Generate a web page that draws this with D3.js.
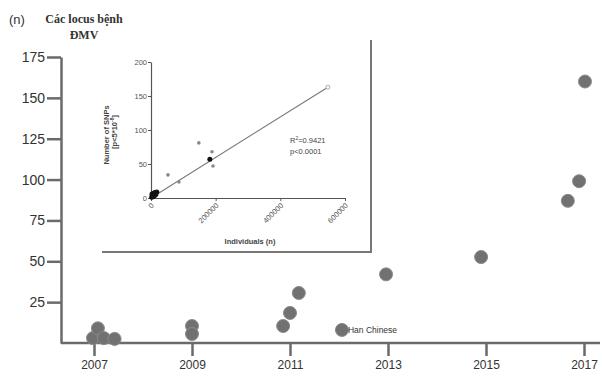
<!DOCTYPE html>
<html>
<head>
<meta charset="utf-8">
<script src="https://cdn.jsdelivr.net/npm/d3@7"></script>
<style>
  body { margin: 0; background: #fff; }
  svg { display: block; }
</style>
</head>
<body>
<script>
// Main chart data: year of study vs number of CAD loci
var studyYears = [2006.98, 2007.08, 2007.2, 2007.42, 2009.0, 2009.0, 2010.86, 2011.0, 2011.18, 2012.06, 2012.96, 2014.9, 2016.67, 2016.9, 2017.02];
var lociCounts = [3, 9, 3, 2.5, 10.4, 5.5, 10.4, 18.4, 30.6, 8, 42, 52.6, 87, 99, 160];
var yearTicks = [2007, 2009, 2011, 2013, 2015, 2017];
var lociTicks = [25, 50, 75, 100, 125, 150, 175];

// Inset data: sample size vs number of SNPs
var insetIndividuals = [148000, 188500, 191700, 86500, 52500];
var insetSNPs = [81, 68, 47, 23.5, 34];
var smallIndividuals = [2000, 4000, 6000, 8000, 10000, 12000, 15000, 18000, 3000, 182000];
var smallSNPs = [1, 4, 2, 7, 3, 8, 5, 9, 6, 57];
var largestIndividuals = [547000];
var largestSNPs = [163];
var fitIndividuals = [0, 547000];
var fitSNPs = [0, 163];
var insetXTicks = [0, 200000, 400000, 600000];
var insetYTicks = [0, 50, 100, 150, 200];

var svgWidth = 602;
var svgHeight = 379;

var svg = d3.select("body")
  .append("svg")
  .attr("width", svgWidth)
  .attr("height", svgHeight);

var defs = svg.append("defs");
defs.append("filter")
  .attr("id", "soft")
  .append("feGaussianBlur")
  .attr("stdDeviation", 0.7);

// scales for the main chart
var xScale = d3.scaleLinear().domain([2007, 2017]).range([94, 584]);
var yScale = d3.scaleLinear().domain([0, 175]).range([343, 57]);

var axisColor = "#6a6a6a";

// main y axis
var yAxisG = svg.append("g")
  .attr("transform", "translate(61,0)")
  .call(d3.axisLeft(yScale).tickValues(lociTicks).tickSize(14).tickSizeOuter(0).tickPadding(2));
yAxisG.select(".domain").attr("stroke", axisColor).attr("stroke-width", 2.5);
yAxisG.selectAll(".tick line").attr("stroke", axisColor).attr("stroke-width", 2.5);
yAxisG.selectAll(".tick text")
  .attr("font-family", "Liberation Sans, Arial, sans-serif")
  .attr("font-size", 14)
  .attr("fill", "#333");

// main x axis
svg.append("line")
  .attr("x1", 61).attr("x2", 600)
  .attr("y1", 343).attr("y2", 343)
  .attr("stroke", axisColor).attr("stroke-width", 2.5);
var xAxisG = svg.append("g")
  .attr("transform", "translate(0,343)")
  .call(d3.axisBottom(xScale).tickValues(yearTicks).tickFormat(d3.format("d")).tickSize(13).tickPadding(4));
xAxisG.select(".domain").remove();
xAxisG.selectAll(".tick line").attr("stroke", axisColor).attr("stroke-width", 2.5);
xAxisG.selectAll(".tick text")
  .attr("font-family", "Liberation Sans, Arial, sans-serif")
  .attr("font-size", 12)
  .attr("fill", "#333");

// inset frame
svg.append("line")
  .attr("x1", 371).attr("x2", 371).attr("y1", 40).attr("y2", 253)
  .attr("stroke", "#777").attr("stroke-width", 2);
svg.append("line")
  .attr("x1", 102).attr("x2", 372).attr("y1", 252).attr("y2", 252)
  .attr("stroke", "#777").attr("stroke-width", 2);

// main points
svg.selectAll(".dot")
  .data(studyYears.map((d, i) => ({ year: d, loci: lociCounts[i] })))
  .enter()
  .append("circle")
  .attr("class", "dot")
  .attr("cx", d => xScale(d.year))
  .attr("cy", d => yScale(d.loci))
  .attr("r", 6.5)
  .attr("fill", "#717171")
  .attr("stroke", "#8a8a8a")
  .attr("stroke-width", 1)
  .attr("filter", "url(#soft)");

svg.append("text")
  .attr("x", xScale(2012.06) + 6)
  .attr("y", yScale(8) + 3)
  .attr("font-family", "Liberation Sans, Arial, sans-serif")
  .attr("font-size", 8.5)
  .attr("fill", "#333")
  .text("Han Chinese");

// titles
svg.append("text")
  .attr("x", 9).attr("y", 24)
  .attr("font-family", "Liberation Sans, Arial, sans-serif")
  .attr("font-size", 13)
  .attr("fill", "#333")
  .text("(n)");
svg.append("text")
  .attr("x", 84).attr("y", 23)
  .attr("text-anchor", "middle")
  .attr("font-family", "Liberation Serif, Times New Roman, serif")
  .attr("font-weight", "bold")
  .attr("font-size", 12)
  .attr("fill", "#333")
  .text("Các locus bệnh");
svg.append("text")
  .attr("x", 84).attr("y", 39)
  .attr("text-anchor", "middle")
  .attr("font-family", "Liberation Serif, Times New Roman, serif")
  .attr("font-weight", "bold")
  .attr("font-size", 12)
  .attr("fill", "#333")
  .text("ĐMV");

// inset chart
var ix = d3.scaleLinear().domain([0, 600000]).range([151, 345]);
var iy = d3.scaleLinear().domain([0, 200]).range([198, 62]);
var insetColor = "#555";

var iyAxis = svg.append("g")
  .attr("transform", "translate(151,0)")
  .call(d3.axisLeft(iy).tickValues(insetYTicks).tickSize(3).tickSizeOuter(0).tickPadding(1));
var ixAxis = svg.append("g")
  .attr("transform", "translate(0,198)")
  .call(d3.axisBottom(ix).tickValues(insetXTicks).tickFormat(d3.format("d")).tickSize(3).tickSizeOuter(0));
[iyAxis, ixAxis].forEach(function(g) {
  g.select(".domain").attr("stroke", insetColor).attr("stroke-width", 1.2);
  g.selectAll(".tick line").attr("stroke", insetColor);
  g.selectAll(".tick text")
    .attr("font-family", "Liberation Sans, Arial, sans-serif")
    .attr("font-size", 7.5)
    .attr("fill", "#555");
});
ixAxis.selectAll(".tick text")
  .attr("text-anchor", "end")
  .attr("dy", null)
  .attr("y", 0)
  .attr("transform", "translate(3,8) rotate(-45)");

svg.append("text")
  .attr("x", 250).attr("y", 244)
  .attr("text-anchor", "middle")
  .attr("font-family", "Liberation Sans, Arial, sans-serif")
  .attr("font-weight", "bold")
  .attr("font-size", 7.5)
  .attr("fill", "#444")
  .text("Individuals (n)");

svg.append("text")
  .attr("transform", "translate(109,135) rotate(-90)")
  .attr("text-anchor", "middle")
  .attr("font-family", "Liberation Sans, Arial, sans-serif")
  .attr("font-weight", "bold")
  .attr("font-size", 7.5)
  .attr("fill", "#444")
  .text("Number of SNPs");
var pLabel = svg.append("text")
  .attr("transform", "translate(117,132) rotate(-90)")
  .attr("text-anchor", "middle")
  .attr("font-family", "Liberation Sans, Arial, sans-serif")
  .attr("font-weight", "bold")
  .attr("font-size", 7.5)
  .attr("fill", "#444");
pLabel.append("tspan").text("[p<5*10");
pLabel.append("tspan").attr("baseline-shift", "super").attr("font-size", 5).text("-8");
pLabel.append("tspan").text("]");

var r2 = svg.append("text")
  .attr("x", 290).attr("y", 143)
  .attr("font-family", "Liberation Sans, Arial, sans-serif")
  .attr("font-size", 7.5)
  .attr("fill", "#444");
r2.append("tspan").text("R");
r2.append("tspan").attr("baseline-shift", "super").attr("font-size", 5).text("2");
r2.append("tspan").text("=0.9421");
svg.append("text")
  .attr("x", 290).attr("y", 154)
  .attr("font-family", "Liberation Sans, Arial, sans-serif")
  .attr("font-size", 7.5)
  .attr("fill", "#444")
  .text("p<0.0001");

// regression line
svg.append("path")
  .datum(fitIndividuals.map((d, i) => [d, fitSNPs[i]]))
  .attr("d", d3.line().x(d => ix(d[0])).y(d => iy(d[1])))
  .attr("fill", "none")
  .attr("stroke", "#777")
  .attr("stroke-width", 1.1);

// inset points
svg.selectAll(".ipt")
  .data(insetIndividuals.map((d, i) => [d, insetSNPs[i]]))
  .enter()
  .append("circle")
  .attr("class", "ipt")
  .attr("cx", d => ix(d[0]))
  .attr("cy", d => iy(d[1]))
  .attr("r", 1.8)
  .attr("fill", "#888");

svg.selectAll(".ismall")
  .data(smallIndividuals.map((d, i) => [d, smallSNPs[i]]))
  .enter()
  .append("circle")
  .attr("class", "ismall")
  .attr("cx", d => ix(d[0]))
  .attr("cy", d => iy(d[1]))
  .attr("r", 2.5)
  .attr("fill", "#111");

svg.selectAll(".ibig")
  .data(largestIndividuals.map((d, i) => [d, largestSNPs[i]]))
  .enter()
  .append("circle")
  .attr("class", "ibig")
  .attr("cx", d => ix(d[0]))
  .attr("cy", d => iy(d[1]))
  .attr("r", 2)
  .attr("fill", "#fff")
  .attr("stroke", "#aaa");
</script>
</body>
</html>
